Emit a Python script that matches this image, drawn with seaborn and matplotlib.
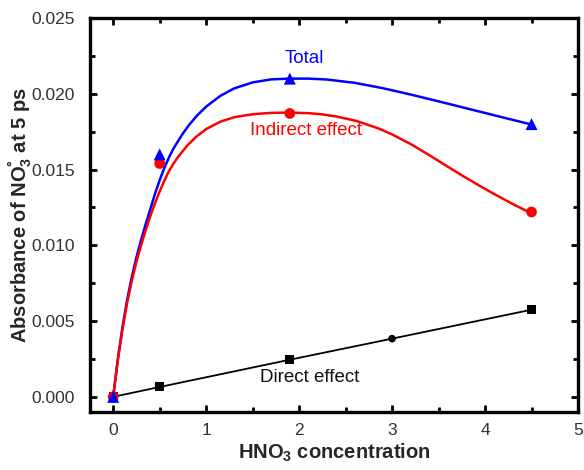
import numpy as np
import pandas as pd
import matplotlib
matplotlib.use('Agg')
import matplotlib.pyplot as plt
import seaborn as sns
from matplotlib.ticker import MultipleLocator, FormatStrFormatter

# measured points
conc = [0, 0.5, 1.9, 4.5]
total = [0.0, 0.0160, 0.0210, 0.0180]
indirect = [0.0, 0.0154, 0.0187, 0.0122]
direct_x = [0, 0.5, 1.9, 3.0, 4.5]
direct = [0.0, 0.00065, 0.00245, 0.00384, 0.00575]

# smooth fit curves
total_fit_x = [0, 0.05, 0.10, 0.15, 0.20, 0.25, 0.30, 0.35, 0.40, 0.45, 0.50, 0.55, 0.60,
               0.65, 0.70, 0.75, 0.82, 0.90, 1.00, 1.15, 1.30, 1.50, 1.70, 1.90, 2.10,
               2.30, 2.60, 2.90, 3.20, 3.50, 3.80, 4.10, 4.50]
total_fit_y = [0, 0.0025, 0.0046, 0.0064, 0.0079, 0.0092, 0.01035, 0.0114, 0.0124, 0.0134,
               0.0143, 0.0151, 0.0158, 0.0164, 0.0169, 0.01738, 0.01797, 0.01855, 0.01915,
               0.01985, 0.02035, 0.02075, 0.02095, 0.0210, 0.0210, 0.02094, 0.02072, 0.02037,
               0.01995, 0.0195, 0.01904, 0.01858, 0.01797]
indirect_fit_x = [0, 0.05, 0.10, 0.15, 0.20, 0.25, 0.30, 0.35, 0.40, 0.45, 0.50, 0.55, 0.60,
                  0.65, 0.70, 0.80, 0.90, 1.00, 1.15, 1.30, 1.50, 1.70, 1.90, 2.10, 2.25,
                  2.40, 2.61, 2.86, 3.00, 3.21, 3.40, 3.57, 3.75, 3.93, 4.10, 4.30, 4.50]
indirect_fit_y = [0, 0.0024, 0.00445, 0.0062, 0.00765, 0.0089, 0.0100, 0.0110, 0.01193, 0.01278,
                  0.01355, 0.01426, 0.0149, 0.0154, 0.01585, 0.0166, 0.0172, 0.01767, 0.01815,
                  0.01845, 0.01865, 0.01874, 0.01876, 0.01872, 0.01864, 0.0185, 0.01822,
                  0.0177, 0.01732, 0.01665, 0.01595, 0.0153, 0.01462, 0.01397, 0.01338,
                  0.01272, 0.0121]

sns.set_style('ticks')
plt.rcParams['font.family'] = ['Liberation Sans', 'DejaVu Sans']
plt.rcParams['mathtext.fontset'] = 'custom'
plt.rcParams['mathtext.rm'] = 'Liberation Sans'
plt.rcParams['mathtext.bf'] = 'Liberation Sans:bold'

fig = plt.figure(figsize=(5.84, 4.70), dpi=100)
ax = fig.add_axes([0.154, 0.1234, 0.8357, 0.8383])

sns.lineplot(x=total_fit_x, y=total_fit_y, color='#0000ff', lw=1.8, sort=False, estimator=None, ax=ax)
sns.lineplot(x=indirect_fit_x, y=indirect_fit_y, color='#ff0000', lw=1.8, sort=False, estimator=None, ax=ax)
sns.lineplot(x=direct_x, y=direct, color='black', lw=1.3, sort=False, estimator=None, ax=ax)

sns.scatterplot(x=conc, y=indirect, color='#ff0000', marker='o', s=60, edgecolor='none', ax=ax, zorder=3)
sns.scatterplot(x=conc, y=total, color='#0000ff', marker='^', s=75, edgecolor='none', ax=ax, zorder=4)
sns.scatterplot(x=[direct_x[i] for i in (0, 1, 2, 4)], y=[direct[i] for i in (0, 1, 2, 4)],
                color='black', marker='s', s=42, edgecolor='none', ax=ax, zorder=2)
sns.scatterplot(x=[direct_x[3]], y=[direct[3]], color='black', marker='o', s=30, edgecolor='none', ax=ax, zorder=2)

ax.text(2.06, 0.02236, 'Total', color='#0000ff', fontsize=13.5, ha='center', va='center')
ax.text(2.07, 0.0176, 'Indirect effect', color='#ff0000', fontsize=13.5, ha='center', va='center')
ax.text(2.11, 0.00126, 'Direct effect', color='#111111', fontsize=13.5, ha='center', va='center')

ax.set_xlim(-0.25, 5)
ax.set_ylim(-0.001, 0.025)
ax.xaxis.set_major_locator(MultipleLocator(1))
ax.xaxis.set_minor_locator(MultipleLocator(0.5))
ax.yaxis.set_major_locator(MultipleLocator(0.005))
ax.yaxis.set_minor_locator(MultipleLocator(0.0025))
ax.yaxis.set_major_formatter(FormatStrFormatter('%.3f'))

for s in ax.spines.values():
    s.set_linewidth(2.4)
    s.set_color('black')
ax.tick_params(which='both', direction='in', top=True, right=True, width=2, colors='black',
               labelsize=12.5, labelcolor='#333333')
ax.tick_params(which='major', length=5)
ax.tick_params(which='minor', length=3.5)
ax.tick_params(axis='y', pad=11)
ax.tick_params(axis='x', pad=8)

ax.set_xlabel(r'HNO$_\mathbf{3}$ concentration', fontsize=14.5, fontweight='bold')
ax.set_ylabel(r'Absorbance of NO$_\mathbf{3}^\mathbf{°}$ at 5 ps', fontsize=14.5, fontweight='bold')
ax.xaxis.set_label_coords(0.5, -0.075)
ax.yaxis.set_label_coords(-0.115, 0.5)

fig.savefig('out.png', dpi=100)
